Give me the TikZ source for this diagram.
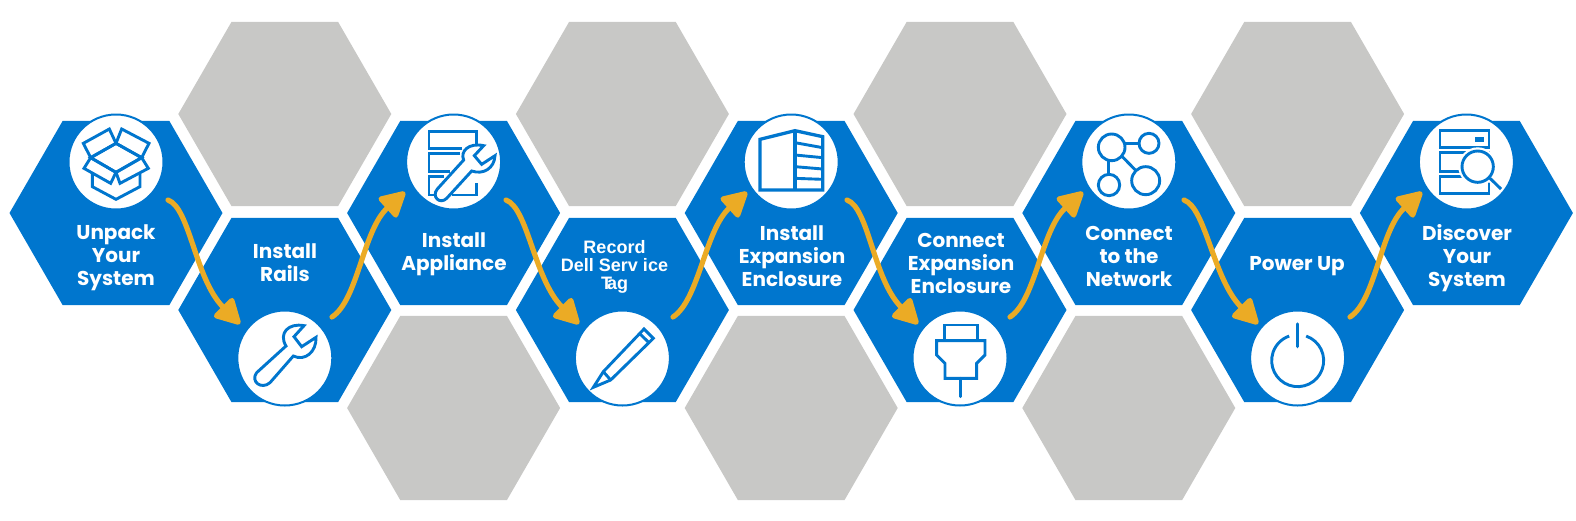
\documentclass[tikz,border=0pt]{standalone}
\usepackage{fontspec}
\setmainfont{Poppins}
\newfontfamily\recfont{Liberation Sans}
\usetikzlibrary{shapes.geometric,arrows.meta}
\definecolor{dellblue}{HTML}{0076CE}
\definecolor{hexgray}{HTML}{C8C8C6}
\definecolor{flow}{HTML}{EBAB25}
\tikzset{
  hexbase/.style={regular polygon,regular polygon sides=6,minimum size=213pt,inner sep=0pt,outer sep=0pt},
  bluehex/.style={hexbase,fill=dellblue},
  grayhex/.style={hexbase,fill=hexgray},
  iconspot/.style={circle,minimum size=95pt,inner sep=0pt,fill=white,draw=dellblue,line width=2pt},
  caption/.style={text=white,align=center,font=\fontsize{20}{23}\selectfont\bfseries,inner sep=0pt},
  smallcaption/.style={text=white,align=center,font=\fontsize{18}{18}\selectfont\recfont\bfseries,inner sep=0pt},
  flowarrow/.style={draw=flow,line width=5.2pt,line cap=round,-{Triangle[length=28pt,width=29pt,round=false]}},
  icon/.style={draw=dellblue,line width=2.9pt,line join=miter},
  halo/.style={draw=white,fill=white,line width=6pt},
}
\newcommand{\wrenchA}{(97,222) -- (176,135) .. controls (165,110) and (190,82) .. (236,92) -- (208,122) -- (230,148) -- (270,122) .. controls (268,160) and (235,180) .. (200,168) -- (125,250) .. controls (105,270) and (78,245) .. (97,222) -- cycle}
\newcommand{\wrenchB}{(770,818) -- (858,738) .. controls (835,700) and (865,668) .. (912,677) -- (882,710) -- (905,740) -- (948,712) .. controls (950,755) and (915,785) .. (880,768) -- (810,848) .. controls (785,870) and (750,845) .. (770,818) -- cycle}
\begin{document}
\begin{tikzpicture}[x=1pt,y=-1pt]
\useasboundingbox (0,0) rectangle (1576,520);
% gray hexagons
\node[grayhex] (g1) at (284.8,114) {};
\node[grayhex] (g2) at (622.4,114) {};
\node[grayhex] (g3) at (960,114) {};
\node[grayhex] (g4) at (1297.6,114) {};
\node[grayhex] (g5) at (453.6,408) {};
\node[grayhex] (g6) at (791.2,408) {};
\node[grayhex] (g7) at (1128.8,408) {};
% blue hexagons
\node[bluehex] (h1) at (116,213) {};
\node[bluehex] (h2) at (284.8,310) {};
\node[bluehex] (h3) at (453.6,213) {};
\node[bluehex] (h4) at (622.4,310) {};
\node[bluehex] (h5) at (791.2,213) {};
\node[bluehex] (h6) at (960,310) {};
\node[bluehex] (h7) at (1128.8,213) {};
\node[bluehex] (h8) at (1297.6,310) {};
\node[bluehex] (h9) at (1466.4,213) {};
% icon circles
\node[iconspot] (c1) at (116,162) {};
\node[iconspot] (c2) at (284.8,358) {};
\node[iconspot] (c3) at (453.6,162) {};
\node[iconspot] (c4) at (622.4,358) {};
\node[iconspot] (c5) at (791.2,162) {};
\node[iconspot] (c6) at (960,358) {};
\node[iconspot] (c7) at (1128.8,162) {};
\node[iconspot] (c8) at (1297.6,358) {};
\node[iconspot] (c9) at (1466.4,162) {};
% captions
\node[caption] (t1) at (116,258) {Unpack\\Your\\System};
\node[caption] (t2) at (285,262.5) {Install\\Rails};
\node[caption] (t3) at (454,254.5) {Install\\Appliance};
\node[caption] (t4) at (614.5,267) [smallcaption] {Record\\Dell Serv ice\\T\kern-5pt ag};
\node[caption] (t5) at (792,256) {Install\\Expansion\\Enclosure};
\node[caption] (t6) at (961,263.5) {Connect\\Expansion\\Enclosure};
\node[caption] (t7) at (1129,256) {Connect\\to the\\Network};
\node[caption] (t8) at (1297,266) {Power Up};
\node[caption] (t9) at (1467,258) {Discover\\Your\\System};
% icon 1: box
\begin{scope}[shift={(70,115)},scale=1/3]
\draw[icon] (138,85) -- (215,128) -- (138,172) -- (62,128) -- cycle;
\draw[icon] (40,85) -- (118,42) -- (138,85) -- (62,128) -- cycle;
\draw[icon] (155,42) -- (237,85) -- (215,128) -- (138,85) -- cycle;
\draw[icon] (62,128) -- (42,160) -- (122,205) -- (138,172) -- cycle;
\draw[icon] (215,128) -- (235,160) -- (150,205) -- (138,172) -- cycle;
\draw[icon] (67,175) -- (67,215) -- (138,253) -- (210,215) -- (210,175);
\end{scope}
% icon 2: wrench
\begin{scope}[shift={(0,100)},scale=1/3]
\draw[icon] \wrenchB;
\end{scope}
% icon 3: rack and wrench
\begin{scope}[shift={(405,115)},scale=1/3]
\draw[icon] (172,100) -- (72,100) -- (72,50) -- (215,50) -- (215,95);
\draw[icon] (165,115) -- (72,115) -- (72,170) -- (135,170);
\draw[icon] (118,185) -- (72,185) -- (72,240) -- (98,240);
\draw[icon] (140,240) -- (215,240) -- (215,205);
\draw[icon,fill=white] \wrenchA;
\end{scope}
% icon 4: pencil
\begin{scope}[shift={(340,100)},scale=1/3]
\draw[icon] (790,815) -- (912,687) -- (940,715) -- (812,840) -- (760,862) -- cycle;
\draw[icon] (790,815) -- (812,840);
\draw[icon] (898,700) -- (927,728);
\end{scope}
% icon 5: enclosure
\begin{scope}[shift={(680,100)},scale=1/3]
\draw[icon,line width=3.3pt] (240,118) -- (345,92) -- (428,110) -- (428,270) -- (240,270) -- cycle;
\draw[icon,line width=3.3pt] (345,92) -- (345,270);
\draw[icon] (345,128) -- (428,143);
\draw[icon] (345,165) -- (428,173);
\draw[icon] (345,200) -- (428,207);
\draw[icon] (345,235) -- (428,238);
\end{scope}
% icon 6: plug
\begin{scope}[shift={(680,100)},scale=1/3]
\draw[icon] (793,675) rectangle (892,722);
\draw[icon] (770,722) -- (915,722) -- (915,765) -- (890,790) -- (890,835) -- (795,835) -- (795,790) -- (770,765) -- cycle;
\draw[icon,line cap=round] (842,835) -- (842,890);
\end{scope}
% icon 7: network
\begin{scope}[shift={(1010,100)},scale=1/3]
\draw[icon] (305,142) circle[radius=40];
\draw[icon] (417,130) circle[radius=30];
\draw[icon] (297,255) circle[radius=32];
\draw[icon] (407,242) circle[radius=42];
\draw[icon] (345,130) -- (388,130);
\draw[icon] (295,182) -- (295,224);
\draw[icon] (335,168) -- (378,212);
\end{scope}
% icon 8: power
\begin{scope}[shift={(1010,100)},scale=1/3]
\draw[icon] (888.4,708.2) arc[start angle=-71,end angle=251,radius=78];
\draw[icon,line width=3.2pt,line cap=round] (863,672) -- (863,740);
\end{scope}
% icon 9: server and lens
\begin{scope}[shift={(1415,115)},scale=1/3]
\draw[icon] (75,47) rectangle (222,97);
\draw[icon] (75,112) rectangle (222,170);
\draw[icon] (75,185) rectangle (222,235);
\fill[dellblue] (180,65) rectangle (207,80);
\draw[draw=white,line width=7pt] (225,190) -- (258,222);
\fill[white] (188,155) circle[radius=58];
\draw[icon] (225,190) -- (258,222);
\draw[icon,fill=white] (188,155) circle[radius=47];
\end{scope}
% flow arrows
\coordinate (a1s) at (168,200); \coordinate (a1e) at (240,324);
\coordinate (a2s) at (332,317); \coordinate (a2e) at (405,192);
\coordinate (a3s) at (506,200); \coordinate (a3e) at (579,324);
\coordinate (a4s) at (673,317); \coordinate (a4e) at (747,192);
\coordinate (a5s) at (847,200); \coordinate (a5e) at (918,324);
\coordinate (a6s) at (1010,317); \coordinate (a6e) at (1083,192);
\coordinate (a7s) at (1184,200); \coordinate (a7e) at (1258,324);
\coordinate (a8s) at (1350,317); \coordinate (a8e) at (1422,192);
\draw[flowarrow] (a1s) .. controls +(22,8) and +(-45,-45) .. (a1e);
\draw[flowarrow] (a2s) .. controls +(26,-17) and +(-42,38) .. (a2e);
\draw[flowarrow] (a3s) .. controls +(22,8) and +(-45,-45) .. (a3e);
\draw[flowarrow] (a4s) .. controls +(26,-17) and +(-42,38) .. (a4e);
\draw[flowarrow] (a5s) .. controls +(22,8) and +(-45,-45) .. (a5e);
\draw[flowarrow] (a6s) .. controls +(26,-17) and +(-42,38) .. (a6e);
\draw[flowarrow] (a7s) .. controls +(22,8) and +(-45,-45) .. (a7e);
\draw[flowarrow] (a8s) .. controls +(26,-17) and +(-42,38) .. (a8e);
\end{tikzpicture}
\end{document}
